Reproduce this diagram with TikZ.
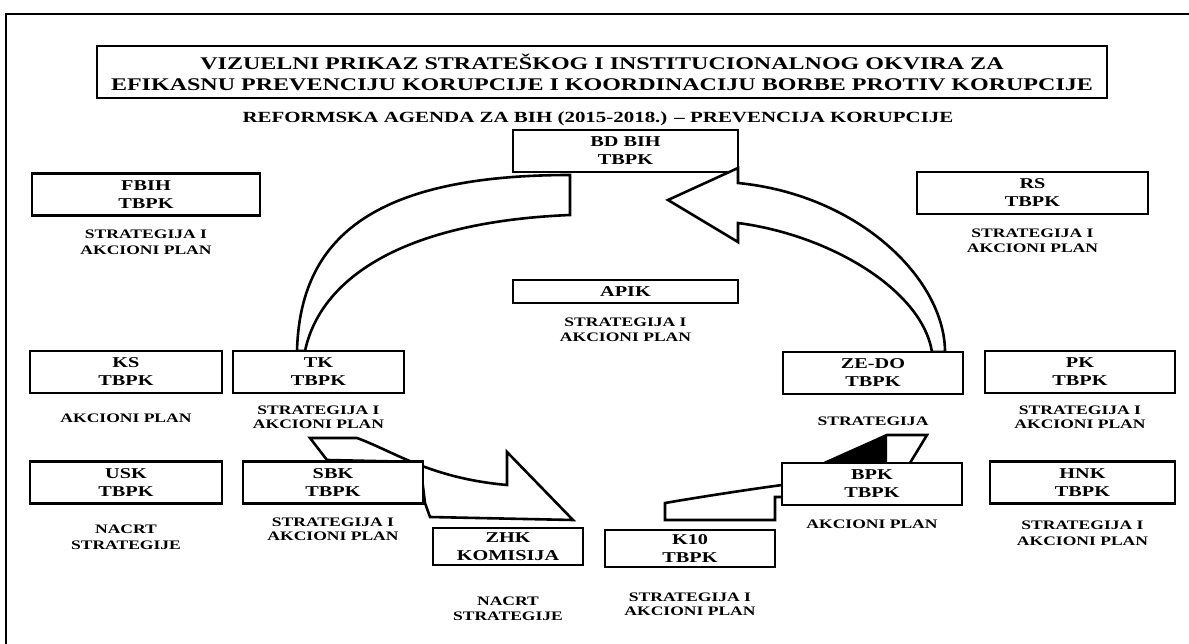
\documentclass[tikz,border=0pt]{standalone}
\usepackage{fontspec}
\setmainfont[FakeStretch=1.35]{Liberation Serif}
\usetikzlibrary{positioning}

\begin{document}
\begin{tikzpicture}[x=1pt, y=-1pt, node distance=12pt]
  \tikzstyle{box} = [rectangle, draw, line width=2.6pt, fill=white, minimum height=42pt, inner sep=0pt, align=center, font=\fontsize{15}{18}\selectfont\bfseries]
  \tikzstyle{lbl} = [inner sep=0pt, align=center, font=\fontsize{13}{14}\selectfont\bfseries]
  \tikzstyle{wide} = [font=\fontsize{13}{15.5}\selectfont\bfseries]
  \tikzstyle{band} = [draw, line width=2.6pt, fill=white, line join=miter]
  \useasboundingbox (0,0) rectangle (1189,644);
  % frame and heading
  \draw [line width=2.4pt] (6,644) -- (6,14) -- (1189,14);
  \node [box, minimum width=1010pt, minimum height=52pt, font=\fontsize{17.8}{21}\selectfont\bfseries] (title) at (602,72) {VIZUELNI PRIKAZ STRATEŠKOG I INSTITUCIONALNOG OKVIRA ZA\\EFIKASNU PREVENCIJU KORUPCIJE I KOORDINACIJU BORBE PROTIV KORUPCIJE};
  \node [lbl, font=\fontsize{15.5}{17}\selectfont\bfseries] (agenda) at (598,119) {REFORMSKA AGENDA ZA BIH (2015-2018.) -- PREVENCIJA KORUPCIJE};
  \node [box, minimum width=225pt, minimum height=42pt] (bdbih) at (625.5,151) {BD BIH\\TBPK};

  % curved arrows
  \path [band] (297,351) .. controls (300,240) and (370,175) .. (570,175) -- (570,215) .. controls (400,222) and (320,280) .. (305,351) -- cycle;
  \path [band] (945,352) .. controls (945,280) and (860,195) .. (738,183) -- (738,168) -- (668,200) -- (738,242) -- (738,223) .. controls (830,235) and (922,290) .. (932,352) -- cycle;
  \path [band] (310,438) -- (357,438) .. controls (395,452) and (430,478) .. (507,485) -- (507,452) -- (573,520) -- (430,517) -- (425,503) -- (420,462) -- (327,460) -- cycle;
  \path [band] (665,520) -- (665,503) .. controls (700,497) and (745,490) .. (782,485) -- (820,465) -- (887,435) -- (927,435) -- (910,463) -- (860,500) -- (782,497) -- (775,497) -- (775,520) -- cycle;
  \fill (820,465) -- (887,435) -- (887,465) -- cycle;

  % Place nodes
  \node [box, minimum width=228pt] (fbih) at (146,194.5) {FBIH\\TBPK};
  \node [box, minimum width=231pt] (rs) at (1032.5,193) {RS\\TBPK};
  \node [box, minimum width=225pt, minimum height=23pt] (apik) at (625.5,291.5) {APIK};
  \node [box, minimum width=192pt] (ks) at (126,372) {KS\\TBPK};
  \node [box, minimum width=171pt] (tk) at (318.5,372) {TK\\TBPK};
  \node [box, minimum width=180pt] (zedo) at (873,373) {ZE-DO\\TBPK};
  \node [box, minimum width=190pt] (pk) at (1080,372) {PK\\TBPK};
  \node [box, minimum width=192pt] (usk) at (126,482.5) {USK\\TBPK};
  \node [box, minimum width=180pt] (sbk) at (333,482.5) {SBK\\TBPK};
  \node [box, minimum width=180pt] (bpk) at (872,484) {BPK\\TBPK};
  \node [box, minimum width=185pt] (hnk) at (1082.5,482.5) {HNK\\TBPK};
  \node [box, minimum width=150pt, minimum height=37pt] (zhk) at (508,546.5) {ZHK\\KOMISIJA};
  \node [box, minimum width=170pt, minimum height=37pt] (k10) at (690,548.5) {K10\\TBPK};

  % texts under the boxes
  \node [lbl, wide, below=13pt of fbih] (fbih-doc) {STRATEGIJA I\\AKCIONI PLAN};
  \node [lbl, wide, below=13pt of rs] (rs-doc) {STRATEGIJA I\\AKCIONI PLAN};
  \node [lbl, wide, below=13pt of apik] (apik-doc) {STRATEGIJA I\\AKCIONI PLAN};
  \node [lbl, below=19pt of ks] (ks-doc) {AKCIONI PLAN};
  \node [lbl, below=11pt of tk] (tk-doc) {STRATEGIJA I\\AKCIONI PLAN};
  \node [lbl, below=21pt of zedo] (zedo-doc) {STRATEGIJA};
  \node [lbl, below=11pt of pk] (pk-doc) {STRATEGIJA I\\AKCIONI PLAN};
  \node [lbl, wide, below=20pt of usk] (usk-doc) {NACRT\\STRATEGIJE};
  \node [lbl, below=13pt of sbk] (sbk-doc) {STRATEGIJA I\\AKCIONI PLAN};
  \node [lbl, below=13pt of bpk] (bpk-doc) {AKCIONI PLAN};
  \node [lbl, wide, below=16pt of hnk] (hnk-doc) {STRATEGIJA I\\AKCIONI PLAN};
  \node [lbl, wide, below=30pt of zhk] (zhk-doc) {NACRT\\STRATEGIJE};
  \node [lbl, below=24pt of k10] (k10-doc) {STRATEGIJA I\\AKCIONI PLAN};
\end{tikzpicture}
\end{document}
